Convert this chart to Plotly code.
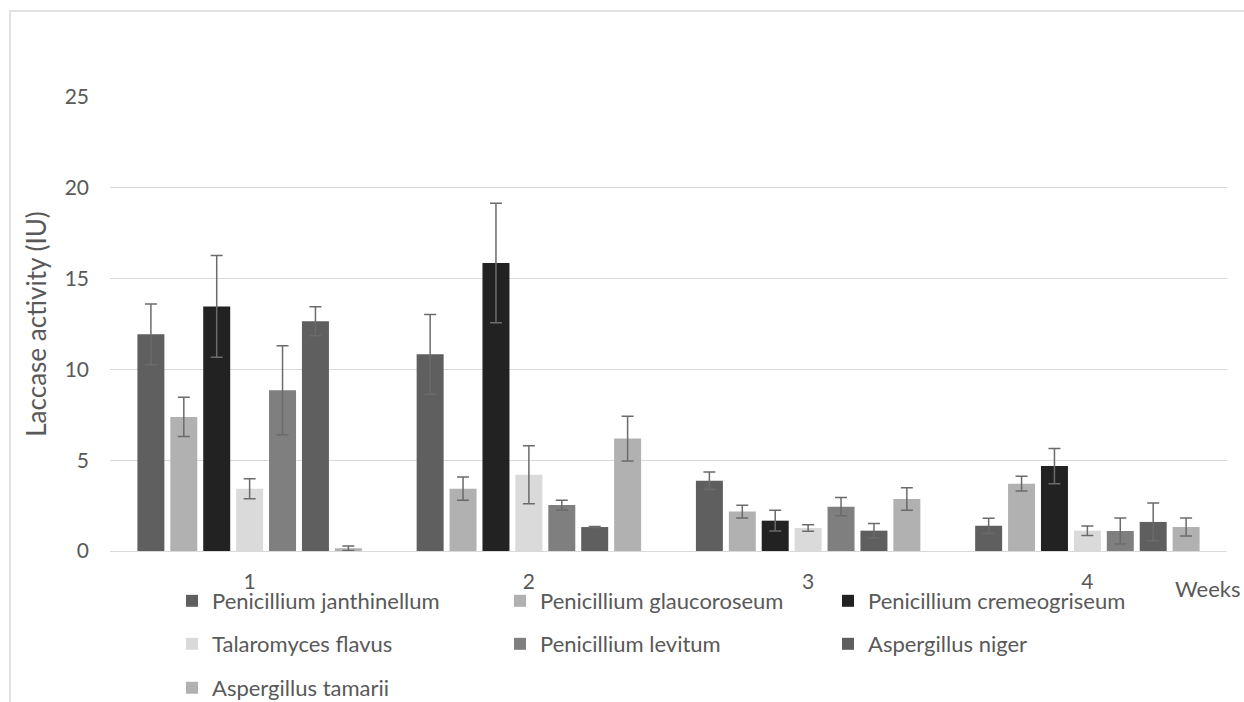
import plotly.graph_objects as go

weeks = ["1", "2", "3", "4"]

species = [
    "Penicillium janthinellum",
    "Penicillium glaucoroseum",
    "Penicillium cremeogriseum",
    "Talaromyces flavus",
    "Penicillium levitum",
    "Aspergillus niger",
    "Aspergillus tamarii",
]

janthinellum = [11.93, 10.83, 3.87, 1.39]
janthinellum_err = [1.67, 2.2, 0.48, 0.42]
glaucoroseum = [7.38, 3.43, 2.17, 3.71]
glaucoroseum_err = [1.08, 0.64, 0.35, 0.4]
cremeogriseum = [13.47, 15.86, 1.67, 4.68]
cremeogriseum_err = [2.8, 3.29, 0.57, 0.97]
talaromyces = [3.43, 4.2, 1.27, 1.12]
talaromyces_err = [0.55, 1.6, 0.18, 0.26]
levitum = [8.85, 2.53, 2.44, 1.1]
levitum_err = [2.45, 0.27, 0.5, 0.72]
niger = [12.65, 1.32, 1.12, 1.6]
niger_err = [0.8, 0.03, 0.4, 1.04]
tamarii = [0.15, 6.19, 2.86, 1.32]
tamarii_err = [0.12, 1.23, 0.62, 0.5]

values = [janthinellum, glaucoroseum, cremeogriseum, talaromyces, levitum, niger, tamarii]
errors = [janthinellum_err, glaucoroseum_err, cremeogriseum_err, talaromyces_err,
          levitum_err, niger_err, tamarii_err]
colors = ["#5f5f5f", "#b1b1b1", "#222222", "#dadada", "#7f7f7f", "#5f5f5f", "#b1b1b1"]
legend_ids = ["legend", "legend", "legend", "legend2", "legend2", "legend2", "legend3"]

FONT = "Lato"
TXT = "#595959"

fig = go.Figure()
for name, v, e, c, lg in zip(species, values, errors, colors, legend_ids):
    fig.add_trace(go.Bar(
        x=weeks, y=v, name=name,
        marker=dict(color=c, line=dict(width=0)),
        error_y=dict(type="data", array=e, visible=True, color="#6b6b6b",
                     thickness=1.5, width=6),
        legend=lg,
    ))

W, H = 1244, 702
L, R, T, B = 110, 17, 97, 151
pw = W - L - R
ph = H - T - B


def px2x(px):
    return (px - L) / pw


def py2y(py):
    return (H - B - py) / ph


legend_common = dict(
    orientation="h",
    font=dict(family=FONT, size=22, color=TXT),
    entrywidth=283,
    entrywidthmode="pixels",
    xanchor="left",
    yanchor="middle",
    bgcolor="rgba(0,0,0,0)",
    traceorder="normal",
)

fig.update_layout(
    width=W, height=H,
    margin=dict(l=L, r=R, t=T, b=B, autoexpand=False),
    paper_bgcolor="white",
    plot_bgcolor="white",
    font=dict(family=FONT, color=TXT),
    barmode="group",
    bargap=0.175,
    bargroupgap=0.18,
    showlegend=True,
    legend=dict(x=px2x(172), y=py2y(601), **legend_common),
    legend2=dict(x=px2x(172), y=py2y(644), **legend_common),
    legend3=dict(x=px2x(172), y=py2y(688), **legend_common),
    xaxis=dict(
        type="category",
        showgrid=False,
        showline=True, linecolor="#d9d9d9", linewidth=1,
        ticks="",
        tickfont=dict(family=FONT, size=21, color=TXT),
        ticklabelstandoff=12,
        zeroline=False,
    ),
    yaxis=dict(
        range=[0, 25],
        dtick=5,
        showgrid=True, gridcolor="#d9d9d9", gridwidth=1,
        zeroline=False,
        showline=False,
        ticks="",
        tickfont=dict(family=FONT, size=21, color=TXT),
        ticklabelstandoff=20,
        title=dict(text="Laccase activity (IU)",
                   font=dict(family=FONT, size=26, color=TXT),
                   standoff=10),
    ),
    shapes=[dict(
        type="rect", xref="paper", yref="paper",
        x0=px2x(10), x1=px2x(1270), y0=py2y(730), y1=py2y(11),
        line=dict(color="#d9d9d9", width=1.5), fillcolor="rgba(0,0,0,0)",
        layer="below",
    )],
    annotations=[dict(
        text="Weeks", xref="paper", yref="paper",
        x=px2x(1173), y=py2y(588), xanchor="left", yanchor="middle",
        showarrow=False, font=dict(family=FONT, size=22, color=TXT),
    )],
)

fig.write_html(
    "out.html",
    config={"displayModeBar": False},
    post_script="document.body.style.margin='0';document.body.style.overflow='hidden';",
)
